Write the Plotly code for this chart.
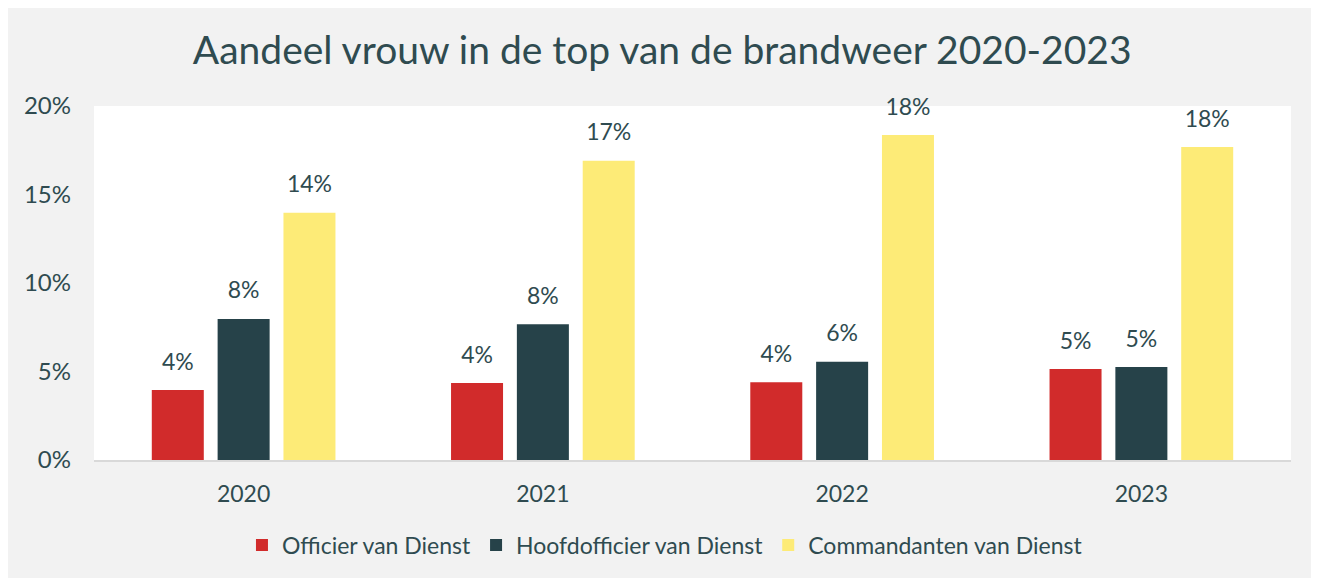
import plotly.graph_objects as go

# ── Data ───────────────────────────────────────────────────────────────────
YEARS = ["2020", "2021", "2022", "2023"]

OFFICIER      = [0.0395, 0.0435, 0.0439, 0.0514]
HOOFDOFFICIER = [0.0797, 0.0767, 0.0555, 0.0525]
COMMANDANTEN  = [0.1397, 0.1690, 0.1836, 0.1768]

SERIES = [
    ("Officier van Dienst", OFFICIER, "#D12B2B"),
    ("Hoofdofficier van Dienst", HOOFDOFFICIER, "#264249"),
    ("Commandanten van Dienst", COMMANDANTEN, "#FDEB77"),
]

TITLE = "Aandeel vrouw in de top van de brandweer 2020-2023"

TEXT_COLOR = "#2F4B50"
FONT = "Lato, 'Open Sans', sans-serif"

fig = go.Figure()

for i, (name, values, color) in enumerate(SERIES):
    fig.add_trace(go.Bar(
        x=YEARS, y=values,
        name=name,
        marker=dict(color=color, line=dict(width=0)),
        offsetgroup=str(i),
        hoverinfo="skip",
    ))
    # value labels, lifted a bit above the bar with an invisible marker
    fig.add_trace(go.Scatter(
        x=YEARS, y=values,
        mode="markers+text",
        offsetgroup=str(i),
        text=[f"{v:.0%}" for v in values],
        textposition="top center",
        textfont=dict(size=23, color=TEXT_COLOR, family=FONT),
        marker=dict(size=22, color="rgba(0,0,0,0)"),
        showlegend=False,
        hoverinfo="skip",
        cliponaxis=False,
    ))

# the page adds ~8px of white body margin, so the figure is made 8px smaller
fig.update_layout(
    width=1311, height=570,
    autosize=False,
    margin=dict(l=86, r=28, t=98, b=118, autoexpand=False),
    paper_bgcolor="#F2F2F2",
    plot_bgcolor="#FFFFFF",
    font=dict(family=FONT, color=TEXT_COLOR),
    barmode="group",
    scattermode="group",
    bargap=0.34,
    bargroupgap=0.21,
    title=dict(
        text=TITLE,
        x=0.499, xref="container", xanchor="center",
        y=1 - 42 / 570, yref="container", yanchor="middle",
        font=dict(size=39, color=TEXT_COLOR, family=FONT),
    ),
    legend=dict(
        orientation="h",
        x=0.477, xref="paper", xanchor="center",
        y=-0.24, yanchor="middle",
        font=dict(size=23, color=TEXT_COLOR, family=FONT),
        bgcolor="rgba(0,0,0,0)",
        itemwidth=30,
    ),
)

fig.update_xaxes(
    showgrid=False,
    showline=True, linecolor="#D9D9D9", linewidth=2,
    ticks="", ticklabelstandoff=12,
    tickfont=dict(size=23, color=TEXT_COLOR, family=FONT),
)
fig.update_yaxes(
    range=[0, 0.2], dtick=0.05, tickformat=".0%",
    showgrid=False, zeroline=False, showline=False,
    ticks="", ticklabelstandoff=22,
    tickfont=dict(size=24, color=TEXT_COLOR, family=FONT),
)

fig.write_html("out.html")
